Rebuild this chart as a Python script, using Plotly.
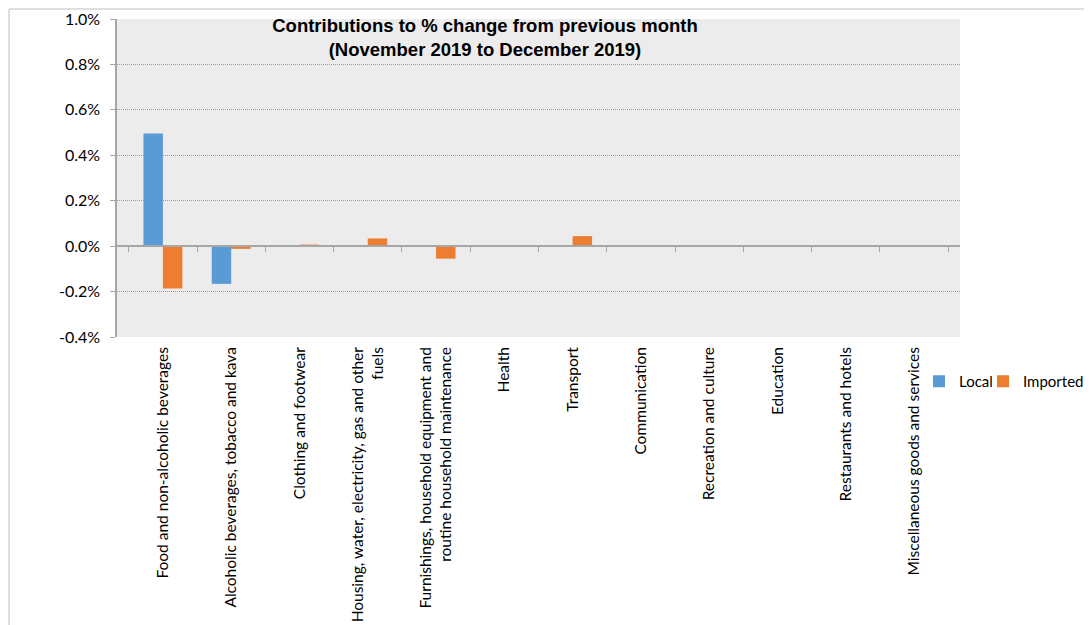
import plotly.graph_objects as go

categories = [
    "Food and non-alcoholic beverages",
    "Alcoholic beverages, tobacco and kava",
    "Clothing and footwear",
    "Housing, water, electricity, gas and other<br>fuels",
    "Furnishings, household equipment and<br>routine household maintenance",
    "Health",
    "Transport",
    "Communication",
    "Recreation and culture",
    "Education",
    "Restaurants and hotels",
    "Miscellaneous goods and services",
]
local_vals = [0.496, -0.166, 0.0, 0.0, 0.0, 0.0, 0.0, 0.0, 0.0, 0.0, 0.0, 0.0]
imported_vals = [-0.186, -0.012, 0.007, 0.034, -0.055, 0.0, 0.044, 0.0, 0.0, 0.0, 0.0, 0.003]
y_ticks = [-0.4, -0.2, 0.0, 0.2, 0.4, 0.6, 0.8, 1.0]
y_tick_labels = ["-0.4%", "-0.2%", "0.0%", "0.2%", "0.4%", "0.6%", "0.8%", "1.0%"]
title_lines = ["Contributions to % change from previous month",
               "(November 2019 to December 2019)"]

# page places the figure 8px in from the top-left corner
OFF = 8
W, H = 1092 - OFF, 625 - OFF
L, R, T, B = 117 - OFF, 960 - OFF, 19 - OFF, 337 - OFF
ymin, ymax = -0.4, 1.0

fig = go.Figure()
fig.add_trace(go.Bar(name="Local", x=categories, y=local_vals, legend="legend",
                     marker=dict(color="#5b9bd5", line=dict(width=0))))
fig.add_trace(go.Bar(name="Imported", x=categories, y=imported_vals, legend="legend2",
                     marker=dict(color="#ed7d31", line=dict(width=0))))
# helper trace for the tick axis drawn at zero
fig.add_trace(go.Scatter(x=categories, y=[0] * len(categories), xaxis="x2",
                         mode="markers", marker=dict(opacity=0), showlegend=False,
                         hoverinfo="skip"))

zero_pos = (0 - ymin) / (ymax - ymin)
gray = "#a6a6a6"
tickfont = "Lato, Open Sans, sans-serif"


def px_x(x):
    return (x - OFF - L) / (R - L)


def px_y(y):
    return (B - (y - OFF)) / (B - T)


legend_common = dict(orientation="h", xanchor="left", yanchor="top", y=px_y(365),
                     font=dict(family=tickfont, size=15), itemwidth=30,
                     bgcolor="rgba(0,0,0,0)")

fig.update_layout(
    width=W, height=H,
    margin=dict(l=L, r=W - R, t=T, b=H - B, pad=0, autoexpand=False),
    paper_bgcolor="white",
    plot_bgcolor="#ececec",
    barmode="group",
    bargap=0.43,
    bargroupgap=0,
    font=dict(family=tickfont, size=15, color="black"),
    title=dict(text="<br>".join("<b>" + t + "</b>" for t in title_lines),
               x=(485 - OFF) / W, xref="container", xanchor="center",
               y=1 - 24 / H, yref="container", yanchor="top",
               font=dict(family="Liberation Sans, Arial, sans-serif", size=18.5, color="black")),
    xaxis=dict(type="category", tickangle=-90, showline=False, ticks="",
               showgrid=False, zeroline=False, ticklabelstandoff=6, automargin=False,
               tickfont=dict(family=tickfont, size=15.5)),
    xaxis2=dict(type="category", overlaying="x", anchor="free", position=zero_pos,
                side="bottom", matches="x", showticklabels=False, showgrid=False,
                ticks="outside", tickson="boundaries", ticklen=5, tickcolor=gray,
                showline=True, linecolor=gray, linewidth=1.5, zeroline=False,
                automargin=False),
    yaxis=dict(range=[ymin, ymax], tickvals=y_ticks, ticktext=y_tick_labels,
               showgrid=True, gridcolor="#9a9a9a", griddash="1px,1px", gridwidth=1,
               zeroline=False, showline=True, linecolor=gray, linewidth=1.5,
               ticks="outside", ticklen=5, tickcolor=gray, ticklabelstandoff=7,
               automargin=False, tickfont=dict(family=tickfont, size=16)),
    legend=dict(x=px_x(919), **legend_common),
    legend2=dict(x=px_x(983), **legend_common),
    showlegend=True,
)

# outer chart border
fig.add_shape(type="rect", xref="paper", yref="paper",
              x0=px_x(9), x1=px_x(1110), y0=px_y(650), y1=px_y(9),
              line=dict(color="#bfbfbf", width=1), fillcolor="rgba(0,0,0,0)", layer="below")

fig.write_html("out.html")
